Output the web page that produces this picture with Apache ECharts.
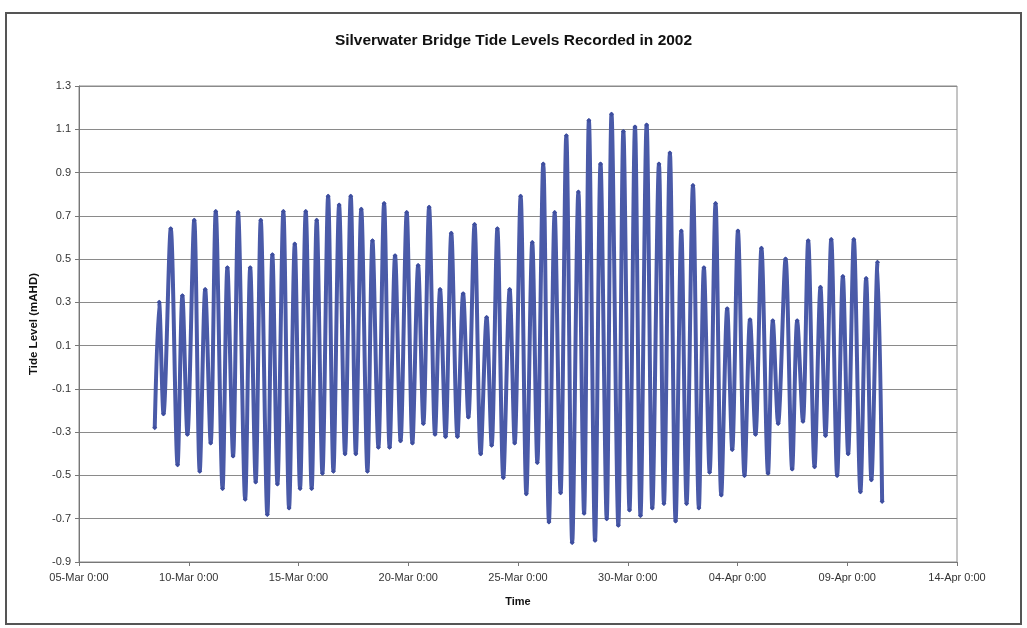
<!DOCTYPE html>
<html>
<head>
<meta charset="utf-8">
<script src="https://cdn.jsdelivr.net/npm/echarts@6/dist/echarts.min.js"></script>
<style>
html,body{margin:0;padding:0;background:#fff;}
#chart{width:1027px;height:628px;}
</style>
</head>
<body>
<div id="chart"></div>
<script>
// x tick labels (every 5 days from 05-Mar-2002 0:00)
const tickLabels = ['05-Mar 0:00','10-Mar 0:00','15-Mar 0:00','20-Mar 0:00','25-Mar 0:00','30-Mar 0:00','04-Apr 0:00','09-Apr 0:00','14-Apr 0:00'];

// times of successive high/low waters, in days after 05-Mar-2002 0:00
const extremeDays = [
  3.45, 3.65, 3.85, 4.18, 4.49, 4.71, 4.94, 5.25, 5.50, 5.75, 6.00, 6.23, 6.54, 6.76, 7.02, 7.25, 7.57, 7.80, 8.05, 8.28, 8.58, 8.81,
  9.04, 9.31, 9.57, 9.83, 10.07, 10.33, 10.60, 10.83, 11.09, 11.35, 11.59, 11.85, 12.12, 12.38, 12.61, 12.86, 13.14, 13.37, 13.64, 13.90, 14.15, 14.40,
  14.65, 14.93, 15.19, 15.45, 15.69, 15.95, 16.22, 16.45, 16.70, 16.96, 17.24, 17.50, 17.74, 18.02, 18.30, 18.57, 18.80, 19.06, 19.33, 19.62, 19.85, 20.12,
  20.38, 20.65, 20.88, 21.15, 21.41, 21.67, 21.94, 22.20, 22.47, 22.75, 23.01, 23.23, 23.51, 23.76, 24.04, 24.26, 24.57, 24.80, 25.08, 25.33, 25.58, 25.86,
  26.12, 26.42, 26.65, 26.92, 27.18, 27.44, 27.68, 27.97, 28.24, 28.47, 28.73, 29.00, 29.26, 29.53, 29.76, 30.02, 30.32, 30.57, 30.82, 31.09, 31.39, 31.61,
  31.85, 32.19, 32.49, 32.72, 32.98, 33.22, 33.51, 33.78, 34.01, 34.27, 34.54, 34.80, 35.04, 35.30, 35.60, 35.86, 36.10, 36.38, 36.59
];

// tide level at those times (mAHD)
const tideLevels = [
  -0.28, 0.30, -0.215, 0.64, -0.45, 0.33, -0.31, 0.68, -0.48, 0.36, -0.35, 0.72, -0.56, 0.46, -0.41, 0.715, -0.61, 0.46, -0.53, 0.68, -0.68, 0.52,
  -0.54, 0.72, -0.65, 0.57, -0.56, 0.72, -0.56, 0.68, -0.49, 0.79, -0.48, 0.75, -0.40, 0.79, -0.40, 0.73, -0.48, 0.585, -0.37, 0.757, -0.37, 0.515,
  -0.34, 0.715, -0.35, 0.47, -0.26, 0.74, -0.31, 0.36, -0.32, 0.62, -0.32, 0.34, -0.23, 0.66, -0.40, 0.23, -0.36, 0.64, -0.51, 0.36, -0.35, 0.79,
  -0.585, 0.577, -0.44, 0.94, -0.715, 0.715, -0.58, 1.07, -0.81, 0.81, -0.675, 1.14, -0.80, 0.94, -0.70, 1.17, -0.73, 1.09, -0.66, 1.11, -0.685, 1.12,
  -0.65, 0.94, -0.63, 0.99, -0.71, 0.63, -0.63, 0.84, -0.65, 0.46, -0.485, 0.757, -0.59, 0.27, -0.38, 0.63, -0.50, 0.22, -0.31, 0.55, -0.49, 0.215,
  -0.26, 0.50, -0.47, 0.215, -0.25, 0.585, -0.46, 0.37, -0.315, 0.59, -0.50, 0.42, -0.40, 0.59, -0.575, 0.41, -0.52, 0.485, -0.62
];

const seriesData = extremeDays.map((d, i) => [d, tideLevels[i]]);
const FONT = '"Liberation Sans", Arial, sans-serif';

const chart = echarts.init(document.getElementById('chart'), null, {renderer: 'canvas'});
chart.setOption({
  backgroundColor: '#ffffff',
  animation: false,
  title: {
    text: 'Silverwater Bridge Tide Levels Recorded in 2002',
    left: 'center',
    top: 28,
    textStyle: {fontFamily: FONT, fontSize: 15.5, fontWeight: 'bold', color: '#111'}
  },
  graphic: [{
    type: 'rect',
    shape: {x: 6, y: 13, width: 1015, height: 611},
    style: {fill: 'none', stroke: '#555', lineWidth: 2},
    silent: true
  }],
  grid: {left: 79, right: 70, top: 86, bottom: 66, show: true, borderColor: '#8a8a8a', borderWidth: 1},
  xAxis: {
    type: 'value',
    min: 0, max: 40, interval: 5,
    name: 'Time',
    nameLocation: 'middle',
    nameGap: 34,
    nameTextStyle: {fontFamily: FONT, fontSize: 11, fontWeight: 'bold', color: '#111'},
    axisLine: {show: true, onZero: false, lineStyle: {color: '#777', width: 1}},
    axisTick: {show: true, length: 4, lineStyle: {color: '#777'}},
    splitLine: {show: false},
    axisLabel: {
      fontFamily: FONT, fontSize: 11, color: '#333', margin: 10,
      formatter: v => tickLabels[Math.round(v / 5)]
    }
  },
  yAxis: {
    type: 'value',
    min: -0.9, max: 1.3, interval: 0.2,
    name: 'Tide Level (mAHD)',
    nameLocation: 'middle',
    nameRotate: 90,
    nameGap: 39,
    nameTextStyle: {fontFamily: FONT, fontSize: 11.5, fontWeight: 'bold', color: '#111'},
    axisLine: {show: true, lineStyle: {color: '#777', width: 1}},
    axisTick: {show: true, length: 4, lineStyle: {color: '#777'}},
    splitLine: {show: true, lineStyle: {color: '#8a8a8a', width: 1}},
    axisLabel: {
      fontFamily: FONT, fontSize: 11, color: '#333', margin: 8,
      formatter: v => (Math.round(v * 10) / 10).toFixed(1)
    }
  },
  series: [{
    type: 'line',
    data: seriesData,
    smooth: 0.3,
    showSymbol: true,
    symbol: 'diamond',
    symbolSize: 5,
    itemStyle: {color: '#3f4f9f'},
    lineStyle: {color: '#4a5aa8', width: 4},
    z: 3
  }]
});
</script>
</body>
</html>
